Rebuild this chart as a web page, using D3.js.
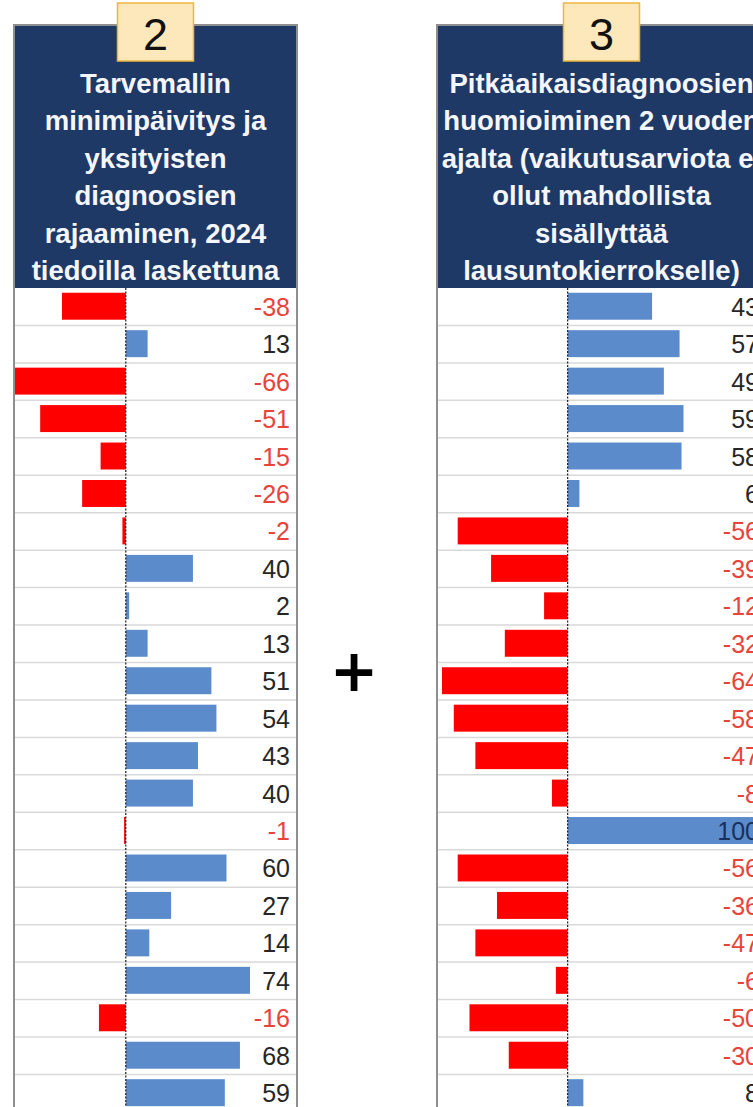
<!DOCTYPE html>
<html>
<head>
<meta charset="utf-8">
<script src="https://cdn.jsdelivr.net/npm/d3@7"></script>
<style>
  html, body { margin: 0; padding: 0; background: #fff; }
  svg { display: block; }
</style>
</head>
<body>
<script>
// values, one per row
var valuesLeft  = [-38, 13, -66, -51, -15, -26, -2, 40, 2, 13, 51, 54, 43, 40, -1, 60, 27, 14, 74, -16, 68, 59];
var valuesRight = [43, 57, 49, 59, 58, 6, -56, -39, -12, -32, -64, -58, -47, -8, 100, -56, -36, -47, -6, -50, -30, 8];

var headerLeft  = ["Tarvemallin", "minimipäivitys ja", "yksityisten", "diagnoosien", "rajaaminen, 2024", "tiedoilla laskettuna"];
var headerRight = ["Pitkäaikaisdiagnoosien", "huomioiminen 2 vuoden", "ajalta (vaikutusarviota ei", "ollut mahdollista", "sisällyttää", "lausuntokierrokselle)"];

var badges = ["2", "3"];

var W = 753, H = 1107;
var svg = d3.select("body").append("svg").attr("width", W).attr("height", H);

var rowTop = 288, rowH = 37.45;
var y = d3.scaleBand()
    .domain(d3.range(valuesLeft.length))
    .range([rowTop, rowTop + rowH * valuesLeft.length]);

function drawPanel(values, header, badge, left, right, xDomain, xRange) {
  var g = svg.append("g");
  var cx = (left + right) / 2;
  var x = d3.scaleLinear().domain(xDomain).range(xRange);

  // white body + grid lines
  g.append("rect").attr("x", left).attr("y", rowTop).attr("width", right - left)
    .attr("height", H - rowTop + 10).attr("fill", "#fff");

  g.selectAll("line.sep").data(values).enter().append("line")
    .attr("class", "sep")
    .attr("x1", left).attr("x2", right)
    .attr("y1", function(d, i){ return y(i) + y.bandwidth(); })
    .attr("y2", function(d, i){ return y(i) + y.bandwidth(); })
    .attr("stroke", "#d9d9d9").attr("stroke-width", 1.5);

  // bars
  var barH = y.bandwidth() * 0.72;
  g.selectAll("rect.bar").data(values).enter().append("rect")
    .attr("class", "bar")
    .attr("x", function(d){ return x(Math.min(0, d)); })
    .attr("y", function(d, i){ return y(i) + (y.bandwidth() - barH) / 2 - 0.5; })
    .attr("width", function(d){ return Math.max(1, Math.abs(x(d) - x(0))); })
    .attr("height", barH)
    .attr("fill", function(d){ return d < 0 ? "#ff0000" : "#5b8bcb"; });

  // zero line
  g.append("line")
    .attr("x1", x(0)).attr("x2", x(0))
    .attr("y1", rowTop).attr("y2", H)
    .attr("stroke", "#1a1a1a").attr("stroke-width", 1.2)
    .attr("stroke-dasharray", "2,1.5");

  // value labels
  g.selectAll("text.val").data(values).enter().append("text")
    .attr("class", "val")
    .attr("x", right - 7)
    .attr("y", function(d, i){ return y(i) + y.bandwidth() / 2; })
    .attr("dy", "0.36em")
    .attr("text-anchor", "end")
    .attr("font-family", "'Liberation Sans', Arial, sans-serif")
    .attr("font-size", 25)
    .attr("fill", function(d){ return d < 0 ? "#e8433b" : (d >= 100 ? "#17305e" : "#262626"); })
    .text(function(d){ return d; });

  // header block
  g.append("rect").attr("x", left).attr("y", 25).attr("width", right - left)
    .attr("height", rowTop - 25).attr("fill", "#1f3966");

  g.selectAll("text.hd").data(header).enter().append("text")
    .attr("class", "hd")
    .attr("x", cx)
    .attr("y", function(d, i){ return 83 + i * 37.4; })
    .attr("dy", "0.36em")
    .attr("text-anchor", "middle")
    .attr("font-family", "'Liberation Sans', Arial, sans-serif")
    .attr("font-weight", "bold")
    .attr("font-size", 27.5)
    .attr("fill", "#f4f6fb")
    .text(function(d){ return d; });

  // panel frame
  g.append("rect").attr("x", left).attr("y", 25).attr("width", right - left)
    .attr("height", H).attr("fill", "none")
    .attr("stroke", "#8f8f8f").attr("stroke-width", 2);

  // number badge
  g.append("rect").attr("x", cx - 38).attr("y", 3).attr("width", 76).attr("height", 58)
    .attr("fill", "#fde8bb").attr("stroke", "#ebb73e").attr("stroke-width", 1.5);
  g.append("text")
    .attr("x", cx).attr("y", 50)
    .attr("text-anchor", "middle")
    .attr("font-family", "'Liberation Sans', Arial, sans-serif")
    .attr("font-size", 45)
    .attr("fill", "#111")
    .text(badge);
}

drawPanel(valuesLeft, headerLeft, badges[0], 14, 297, [-66, 74], [15, 250]);
drawPanel(valuesRight, headerRight, badges[1], 437, 766, [-64, 100], [442, 764]);

// plus sign between the panels
svg.append("text")
  .attr("x", 354).attr("y", 670)
  .attr("dy", "0.36em")
  .attr("text-anchor", "middle")
  .attr("font-family", "'DejaVu Sans', sans-serif")
  .attr("font-weight", "bold")
  .attr("font-size", 58)
  .attr("fill", "#000")
  .text("+");
</script>
</body>
</html>
